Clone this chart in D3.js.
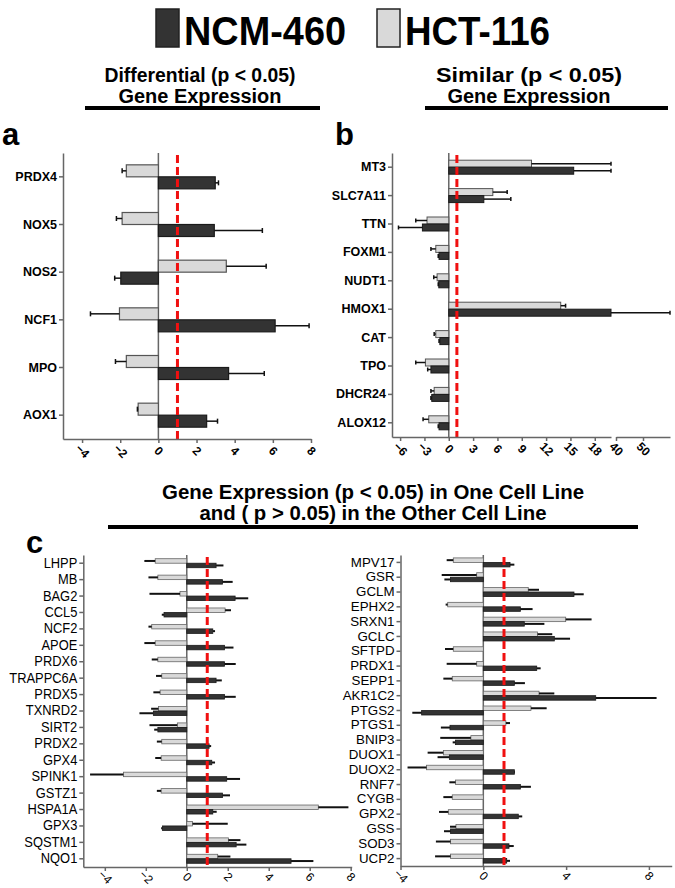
<!DOCTYPE html>
<html>
<head>
<meta charset="utf-8">
<script src="https://cdn.jsdelivr.net/npm/d3@7"></script>
<style>
  body { margin: 0; background: #fff; }
  svg { display: block; font-family: Arial, "Liberation Sans", sans-serif; }
</style>
</head>
<body>
<div id="chart"></div>
<script>
// 1: DATA (fold change, error = SD drawn away from zero)
const seriesNames = ["NCM-460", "HCT-116"];

// panel a - differential expression
const genesA  = ["PRDX4", "NOX5", "NOS2", "NCF1", "MPO", "AOX1"];
const ncmA    = [2.98, 2.93, -1.97, 6.12, 3.68, 2.53];
const ncmSdA  = [0.17, 2.52, 0.32, 1.78, 1.87, 0.57];
const hctA    = [-1.68, -1.9, 3.56, -2.04, -1.68, -1.06];
const hctSdA  = [0.22, 0.3, 2.09, 1.52, 0.57, 0.04];
const ticksA  = [-4, -2, 0, 2, 4, 6, 8];

// panel b - similar expression (broken axis 20 -> 40)
const genesB  = ["MT3", "SLC7A11", "TTN", "FOXM1", "NUDT1", "HMOX1", "CAT", "TPO", "DHCR24", "ALOX12"];
const ncmB    = [15.4, 4.32, -3.25, -1.2, -1.23, 30, -1.1, -2.2, -2.1, -1.2];
const ncmSdB  = [4.6, 3.33, 2.95, 0.1, 0.07, 30, 0.1, 0.4, 0.1, 0.1];
const hctB    = [10.2, 5.43, -2.68, -1.6, -1.44, 13.8, -1.6, -2.88, -1.8, -2.47];
const hctSdB  = [9.8, 1.77, 1.39, 0.6, 0.41, 0.6, 0.2, 1.19, 0.4, 0.7];
const ticksB1 = [-6, -3, 0, 3, 6, 9, 12, 15, 18];
const ticksB2 = [40, 50];

// panel c left
const genesC1 = ["LHPP", "MB", "BAG2", "CCL5", "NCF2", "APOE", "PRDX6", "TRAPPC6A", "PRDX5", "TXNRD2",
                 "SIRT2", "PRDX2", "GPX4", "SPINK1", "GSTZ1", "HSPA1A", "GPX3", "SQSTM1", "NQO1"];
const ncmC1   = [1.43, 1.74, 2.36, -1.11, 1.27, 1.84, 1.84, 1.43, 1.84, -1.63,
                 -1.41, 1.09, 1.22, 1.95, 1.74, 1.27, -1.19, 2.41, 5.09];
const ncmSdC1 = [0.36, 0.5, 0.64, 0.11, 0.11, 0.44, 0.55, 0.28, 0.55, 0.68,
                 0.18, 0.1, 0.16, 0.65, 0.37, 0.19, 0.06, 0.5, 1.09];
const hctC1   = [-1.54, -1.41, -0.33, 1.87, -1.71, -1.54, -1.41, -1.22, -1.3, -1.38,
                 -0.46, -1.22, -1.25, -3.09, -1.25, 6.42, 0.28, 2.03, 1.51];
const hctSdC1 = [0.53, 0.46, 1.49, 0.29, 0.16, 0.53, 0.3, 0.28, 0.33, 0.36,
                 1.36, 0.24, 0.29, 1.63, 0.21, 1.47, 1.72, 0.59, 0.62];
const ticksC1 = [-4, -2, 0, 2, 4, 6, 8];

// panel c right
const genesC2 = ["MPV17", "GSR", "GCLM", "EPHX2", "SRXN1", "GCLC", "SFTPD", "PRDX1", "SEPP1", "AKR1C2",
                 "PTGS2", "PTGS1", "BNIP3", "DUOX1", "DUOX2", "RNF7", "CYGB", "GPX2", "GSS", "SOD3", "UCP2"];
const ncmC2   = [1.29, -1.58, 4.38, 1.79, 1.98, 3.43, 0, 2.58, 1.5, 5.43,
                 -2.98, -1.61, -1.34, -1.64, 1.5, 1.79, 0, 1.69, -1.58, 1.24, 1.13];
const ncmSdC2 = [0.21, 0.3, 0.47, 0.59, 0.97, 0.76, 0, 0.19, 0.51, 2.94,
                 0.45, 0.44, 0.14, 0.57, 0.03, 0.51, 0, 0.19, 0.32, 0.23, 0.16];
const hctC2   = [-1.45, -0.32, 2.17, -1.72, 3.98, 2.62, -1.45, -0.32, -1.5, 2.69,
                 2.3, 1.09, -0.6, -1.93, -2.74, -1.34, -1.5, -1.69, -1.32, -1.58, -1.58];
const hctSdC2 = [0.32, 1.69, 0.52, 0.1, 1.25, 0.71, 0.4, 1.45, 0.43, 0.74,
                 0.76, 0.2, 1.48, 0.76, 0.92, 0.3, 0.43, 0.45, 0.29, 0.71, 0.75];
const ticksC2 = [-4, 0, 4, 8];

// 2: GLOBALS
const W = 675, H = 888;
const darkFill = "#333333", lightFill = "#d9d9d9";
const axisColor = "#666";

const svg = d3.select("#chart").append("svg")
    .attr("width", W)
    .attr("height", H);

function fitWidth(sel, w) {
    sel.attr("textLength", w).attr("lengthAdjust", "spacingAndGlyphs");
}
function squeeze(sel, k) {
    if (k === 1) return;
    sel.each(function () {
        const w = this.getComputedTextLength();
        d3.select(this).attr("textLength", w * k).attr("lengthAdjust", "spacingAndGlyphs");
    });
}

// 3: LEGEND
const legend = [
    { name: seriesNames[0], fill: darkFill, x: 156, w: 162 },
    { name: seriesNames[1], fill: lightFill, x: 377, w: 145 }
];
legend.forEach(d => {
    svg.append("rect")
        .attr("x", d.x).attr("y", 9)
        .attr("width", 23).attr("height", 38)
        .attr("fill", d.fill)
        .attr("stroke", "#222").attr("stroke-width", 1.5);
    svg.append("text")
        .attr("x", d.x + 28).attr("y", 45)
        .style("font-size", "40px").style("font-weight", "bold")
        .text(d.name)
        .call(fitWidth, d.w);
});

// 4: TITLES
function title(lines, cx, ys, widths, size, lineX) {
    lines.forEach((t, i) => {
        svg.append("text")
            .attr("x", cx).attr("y", ys[i])
            .attr("text-anchor", "middle")
            .style("font-size", size + "px").style("font-weight", "bold")
            .text(t)
            .call(fitWidth, widths[i]);
    });
    svg.append("line")
        .attr("x1", lineX[0]).attr("x2", lineX[1])
        .attr("y1", lineX[2]).attr("y2", lineX[2])
        .attr("stroke", "#000").attr("stroke-width", 4);
}
title(["Differential (p < 0.05)", "Gene Expression"], 200, [82, 103], [191, 163], 20, [85, 320, 108]);
title(["Similar (p < 0.05)", "Gene Expression"], 529, [82, 103], [186, 163], 20, [425, 668, 108]);
title(["Gene Expression (p < 0.05) in One Cell Line", "and ( p > 0.05) in the Other Cell Line"],
      373, [499, 520], [422, 347], 20, [108, 638, 527]);

[["a", 2, 145], ["b", 335, 145], ["c", 26, 553]].forEach(d => {
    svg.append("text")
        .attr("x", d[1]).attr("y", d[2])
        .style("font-size", "31px").style("font-weight", "bold")
        .text(d[0]);
});

// 5: PANEL DRAWING
function drawPanel(p) {
    const g = svg.append("g");
    const y = d3.scaleBand().domain(p.genes).range(p.yRange);
    const x = p.x;
    const x0 = x(0);
    const bh = p.barH;

    const rows = p.genes.map((gene, i) => ({
        gene,
        bars: [
            { v: p.hct[i], sd: p.hctSd[i], fill: lightFill, stroke: p.lightStroke, off: -bh },
            { v: p.ncm[i], sd: p.ncmSd[i], fill: darkFill, stroke: "#1a1a1a", off: 0 }
        ]
    }));

    // zero line
    g.append("line")
        .attr("x1", x0).attr("x2", x0)
        .attr("y1", p.yRange[0]).attr("y2", p.yRange[1])
        .attr("stroke", axisColor).attr("stroke-width", 1.5);

    rows.forEach(r => {
        const cy = y(r.gene) + y.bandwidth() / 2;
        r.bars.forEach(b => {
            if (b.v === 0) return;
            const xe = x(b.v);
            g.append("rect")
                .attr("x", Math.min(x0, xe)).attr("y", cy + b.off)
                .attr("width", Math.abs(xe - x0)).attr("height", bh)
                .attr("fill", b.fill)
                .attr("stroke", b.stroke).attr("stroke-width", p.barStroke);
            const xs = x(b.v + Math.sign(b.v) * b.sd);
            const ym = cy + b.off + bh / 2;
            g.append("line")
                .attr("x1", xe).attr("x2", xs)
                .attr("y1", ym).attr("y2", ym)
                .attr("stroke", "#111").attr("stroke-width", p.errW);
            if (p.cap) {
                g.append("line")
                    .attr("x1", xs).attr("x2", xs)
                    .attr("y1", ym - p.cap).attr("y2", ym + p.cap)
                    .attr("stroke", "#111").attr("stroke-width", 1.5);
            }
        });
    });

    // red reference line at 1
    g.append("line")
        .attr("x1", x(1)).attr("x2", x(1))
        .attr("y1", p.yRange[0] + 2).attr("y2", p.yRange[1])
        .attr("stroke", "#f01010").attr("stroke-width", 3)
        .attr("stroke-dasharray", "8,4");

    // y axis with gene names
    const yAxis = g.append("g")
        .attr("transform", `translate(${p.xLeft},0)`)
        .call(d3.axisLeft(y).tickSize(4).tickSizeOuter(0).tickPadding(2));
    yAxis.selectAll("text")
        .attr("fill", "#000")
        .style("font-size", p.labelSize + "px")
        .style("font-weight", p.labelWeight)
        .style("font-family", "Arial, 'Liberation Sans', sans-serif")
        .call(squeeze, p.labelSqueeze);

    // x axis (one or more segments)
    p.xAxes.forEach(a => {
        const xa = g.append("g")
            .attr("transform", `translate(0,${p.yRange[1]})`)
            .call(d3.axisBottom(a.scale).tickValues(a.ticks).tickSize(4).tickSizeOuter(0)
                .tickFormat(d3.format("d")));
        xa.selectAll("text")
            .attr("fill", "#000")
            .attr("y", 0).attr("dy", "0.35em")
            .attr("transform", `translate(0,${p.tickOffset}) rotate(45)`)
            .style("font-size", p.tickSize + "px")
            .style("font-weight", p.tickWeight)
            .style("font-family", "Arial, 'Liberation Sans', sans-serif");
    });

    g.selectAll(".domain, .tick line")
        .attr("stroke", axisColor).attr("stroke-width", 1.5);
}

// 6: SCALES + PANELS
const xA = d3.scaleLinear().domain([-5, 8]).range([63, 311]);
drawPanel({
    genes: genesA, ncm: ncmA, ncmSd: ncmSdA, hct: hctA, hctSd: hctSdA,
    x: xA, xLeft: 63, yRange: [153, 439], barH: 12, barStroke: 1.2, lightStroke: "#555",
    errW: 1.5, cap: 2.5,
    labelSize: 12.5, labelWeight: "bold", labelSqueeze: 1,
    xAxes: [{ scale: xA, ticks: ticksA }], tickOffset: 12, tickSize: 12, tickWeight: "bold"
});

const xB1 = d3.scaleLinear().domain([-7, 20]).range([392, 611]);
const xB2 = d3.scaleLinear().domain([40, 60]).range([616, 670]);
const xB = v => v <= 20 ? xB1(v) : v < 40 ? xB1(20) : xB2(v);
drawPanel({
    genes: genesB, ncm: ncmB, ncmSd: ncmSdB, hct: hctB, hctSd: hctSdB,
    x: xB, xLeft: 392, yRange: [153, 437], barH: 7, barStroke: 1, lightStroke: "#555",
    errW: 1.5, cap: 2,
    labelSize: 12.5, labelWeight: "bold", labelSqueeze: 1,
    xAxes: [{ scale: xB1, ticks: ticksB1 }, { scale: xB2, ticks: ticksB2 }],
    tickOffset: 12, tickSize: 12, tickWeight: "bold"
});

const xC1 = d3.scaleLinear().domain([-5.05, 8.05]).range([83.3, 351.7]);
drawPanel({
    genes: genesC1, ncm: ncmC1, ncmSd: ncmSdC1, hct: hctC1, hctSd: hctSdC1,
    x: xC1, xLeft: 83.3, yRange: [555, 867], barH: 4.5, barStroke: 0.8, lightStroke: "#666",
    errW: 2, cap: 0,
    labelSize: 14, labelWeight: "normal", labelSqueeze: 0.92,
    xAxes: [{ scale: xC1, ticks: ticksC1 }], tickOffset: 10, tickSize: 12, tickWeight: "normal"
});

const xC2 = d3.scaleLinear().domain([-4, 9.1]).range([400.5, 671.7]);
drawPanel({
    genes: genesC2, ncm: ncmC2, ncmSd: ncmSdC2, hct: hctC2, hctSd: hctSdC2,
    x: xC2, xLeft: 400.5, yRange: [555, 866], barH: 4.5, barStroke: 0.8, lightStroke: "#666",
    errW: 2, cap: 0,
    labelSize: 12.8, labelWeight: "normal", labelSqueeze: 1.04,
    xAxes: [{ scale: xC2, ticks: ticksC2 }], tickOffset: 10, tickSize: 12, tickWeight: "normal"
});
</script>
</body>
</html>
